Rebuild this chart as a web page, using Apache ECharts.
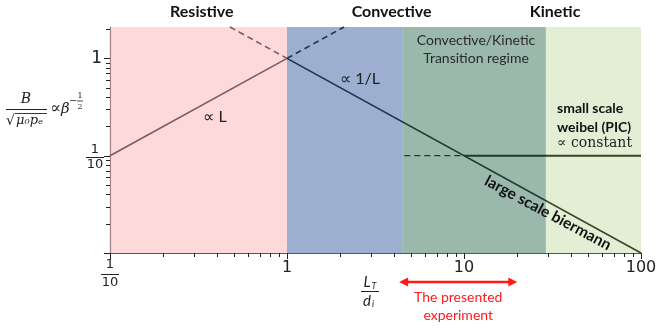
<!DOCTYPE html>
<html><head><meta charset="utf-8">
<script src="https://cdn.jsdelivr.net/npm/echarts@6/dist/echarts.min.js"></script>
<style>html,body{margin:0;padding:0;background:#fff}#c{width:659px;height:329px}</style>
</head><body><div id="c"></div>
<script>
// ---- data ----
const xRange = [0.1, 100];
const yRange = [0.01, 2.1];
const xMajorTicks = [0.1, 1, 10, 100];
const xMinorTicks = [0.2,0.3,0.4,0.5,0.6,0.7,0.8,0.9,2,3,4,5,6,7,8,9,20,30,40,50,60,70,80,90];
const yMajorTicks = [0.01, 0.1, 1];
const yMinorTicks = [0.02,0.03,0.04,0.05,0.06,0.07,0.08,0.09,0.2,0.3,0.4,0.5,0.6,0.7,0.8,0.9,2];
const regionNames = ['Resistive', 'Convective', 'Transition', 'Kinetic'];
const regionFrom = [0.1, 1, 4.5, 29];
const regionTo = [1, 4.5, 29, 100];
const regionTitles = ['Resistive', 'Convective', 'Kinetic'];
const regionTitleX = [0.33, 3.9, 32.7];
const resistiveSolid = [[0.1, 0.1], [1, 1]];
const resistiveDashed = [[1, 1], [2.1, 2.1]];
const convectiveDashed = [[0.476, 2.1], [1, 1]];
const convectiveSolid = [[1, 1], [100, 0.01]];
const weibelDashed = [[4.6, 0.1], [10, 0.1]];
const weibelSolid = [[10, 0.1], [100, 0.1]];
const experimentRange = [4.3, 20];

// ---- styles ----
const regionColors = ['#fbb3b3', '#395fa1', '#37715b', '#a7ce7c'];
const regionOpacity = [0.5, 0.5, 0.5, 0.33];
const TICK = '#222';
const chart = echarts.init(document.getElementById('c'), null, {renderer: 'canvas'});

function lineSeries(data, dashed, width) {
  return {
    type: 'line', data: data, symbol: 'none', silent: true, z: 2,
    lineStyle: {color: '#000', width: width || 1.6, type: dashed ? [6, 4] : 'solid'},
    animation: false
  };
}
function tickSeries(values, isX, len) {
  return {
    type: 'custom', z: 20, silent: true, clip: false,
    data: values.map(v => isX ? [v, yRange[0]] : [xRange[0], v]),
    encode: {x: 0, y: 1},
    renderItem: function (params, api) {
      const p = api.coord([api.value(0), api.value(1)]);
      const c = isX ? Math.round(p[0]) + 0.5 : Math.round(p[1]) + 0.5;
      const shape = isX ? {x1: c, y1: p[1], x2: c, y2: p[1] + len} : {x1: p[0] - len, y1: c, x2: p[0], y2: c};
      return {type: 'line', shape: shape, style: {stroke: TICK, lineWidth: 1}};
    }
  };
}

const option = {
  animation: false,
  grid: {left: 110, right: 18, top: 27, bottom: 76, outerBoundsMode: 'none', containLabel: false},
  xAxis: {
    type: 'log', logBase: 10, min: xRange[0], max: xRange[1],
    axisLine: {show: true, lineStyle: {color: '#555', width: 1.2}},
    axisTick: {show: false},
    axisLabel: {customValues: xMajorTicks, margin: 7, fontFamily: 'DejaVu Sans', fontSize: 16, color: '#222',
      formatter: v => (Math.abs(v - 0.1) < 1e-9 ? '' : String(Math.round(v)))},
    splitLine: {show: false}, minorTick: {show: false}
  },
  yAxis: {
    type: 'log', logBase: 10, min: yRange[0], max: yRange[1],
    axisLine: {show: true, lineStyle: {color: '#555', width: 1.2}},
    axisTick: {show: false},
    axisLabel: {customValues: [1], margin: 8, fontFamily: 'DejaVu Sans', fontSize: 17, color: '#222',
      formatter: v => (Math.abs(v - 1) < 1e-9 ? '1' : '')},
    splitLine: {show: false}
  },
  series: [
    lineSeries(resistiveSolid, false),
    lineSeries(resistiveDashed, true),
    lineSeries(convectiveDashed, true),
    lineSeries(convectiveSolid, false),
    lineSeries(weibelDashed, true, 1.2),
    lineSeries(weibelSolid, false, 2),
    {
      type: 'custom', z: 5, silent: true,
      data: regionFrom.map((f, i) => [f, regionTo[i]]),
      encode: {x: [0, 1]},
      renderItem: function (params, api) {
        const p0 = api.coord([api.value(0), yRange[1]]);
        const p1 = api.coord([api.value(1), yRange[0]]);
        return {type: 'rect', shape: {x: p0[0], y: p0[1], width: p1[0] - p0[0], height: p1[1] - p0[1]},
          style: {fill: regionColors[params.dataIndex], opacity: regionOpacity[params.dataIndex]}};
      }
    },
    tickSeries(xMajorTicks, true, 6),
    tickSeries(xMinorTicks, true, 4),
    tickSeries(yMajorTicks, false, 6),
    tickSeries(yMinorTicks, false, 4)
  ]
};
chart.setOption(option);

// ---- annotations ----
const px = x => chart.convertToPixel({xAxisIndex: 0}, x);
const INK = '#222';
function txt(text, x, y, font, fill, align, extra) {
  return Object.assign({type: 'text', z: 100, silent: true, x: x, y: y,
    style: {text: text, font: font, fill: fill || INK, align: align || 'center', verticalAlign: 'middle',
      textAlign: align || 'center', textVerticalAlign: 'middle'}}, extra || {});
}
function ln(x1, y1, x2, y2, color, w) {
  return {type: 'line', z: 100, silent: true, shape: {x1: x1, y1: y1, x2: x2, y2: y2},
    style: {stroke: color || INK, lineWidth: w || 1}};
}
const els = [];
// region titles
regionTitles.forEach((t, i) => els.push(txt(t, px(regionTitleX[i]), 12, 'bold 16px Lato', '#111')));
// in-plot text
els.push(txt('\u221d L', 215, 117, '16px Lato', '#222'));
els.push(txt('\u221d 1/L', 360, 79, '16px Lato', '#222'));
els.push(txt('Convective/Kinetic', 476, 40, '14px Lato', '#2a2a2a'));
els.push(txt('Transition regime', 476, 58, '14px Lato', '#2a2a2a'));
els.push(txt('small scale', 557, 108, 'bold 14px Lato', '#111', 'left'));
els.push(txt('weibel (PIC)', 557, 127, 'bold 14px Lato', '#111', 'left'));
els.push(txt('\u221d constant', 557, 143, '14px "DejaVu Serif"', '#222', 'left'));
els.push(txt('large scale biermann', 548, 213, 'bold 15.5px Lato', '#111', 'center', {rotation: -0.49}));
// y axis 1/10 fraction
els.push(txt('1', 95, 150, '13px "DejaVu Sans"'));
els.push(ln(86, 157.5, 104, 157.5, INK, 1));
els.push(txt('10', 95, 165, '13px "DejaVu Sans"'));
// x axis 1/10 fraction
const x01 = px(0.1);
els.push(txt('1', x01, 265, '13px "DejaVu Sans"'));
els.push(ln(x01 - 9, 274.5, x01 + 9, 274.5, INK, 1));
els.push(txt('10', x01, 283, '13px "DejaVu Sans"'));
// y axis formula
els.push(txt('B', 26, 99, 'italic 14px "DejaVu Serif"'));
els.push(ln(6, 109.5, 47, 109.5, INK, 1));
els.push(txt('\u221a', 6, 121, '14px "DejaVu Serif"', INK, 'left'));
els.push(ln(15, 113.5, 47, 113.5, INK, 0.9));
els.push(txt('\u03bc\u2080p\u2091', 16, 121, 'italic 13px "DejaVu Serif"', INK, 'left'));
els.push(txt('\u221d', 50, 109, '16px "DejaVu Serif"', INK, 'left'));
els.push(txt('\u03b2', 61, 109, 'italic 15px "DejaVu Serif"', INK, 'left'));
els.push(txt('\u2212', 69, 101, '10px "DejaVu Serif"', INK, 'left'));
els.push(txt('1', 80, 96, '8px "DejaVu Serif"'));
els.push(ln(77, 101, 83, 101, INK, 0.8));
els.push(txt('2', 80, 106.5, '8px "DejaVu Serif"'));
// x axis title L_T / d_i
els.push(txt('L', 367, 282, 'italic 15px Lato', INK, 'center'));
els.push(txt('T', 374, 286, 'italic 9px Lato', INK, 'center'));
els.push(ln(361, 291.5, 379, 291.5, INK, 1));
els.push(txt('d', 367, 301, 'italic 15px Lato', INK, 'center'));
els.push(txt('i', 373, 304, 'italic 9px Lato', INK, 'center'));
// red arrow for experiment
const ax0 = px(experimentRange[0]), ax1 = px(experimentRange[1]);
const RED = '#ff1a1a';
els.push(ln(ax0 + 6, 282, ax1 - 6, 282, RED, 2.5));
els.push({type: 'polygon', z: 100, silent: true, shape: {points: [[ax0, 282], [ax0 + 9, 277.5], [ax0 + 9, 286.5]]}, style: {fill: RED}});
els.push({type: 'polygon', z: 100, silent: true, shape: {points: [[ax1, 282], [ax1 - 9, 277.5], [ax1 - 9, 286.5]]}, style: {fill: RED}});
const amid = (ax0 + ax1) / 2;
els.push(txt('The presented', amid, 297, '14px Lato', RED));
els.push(txt('experiment', amid, 315, '14px Lato', RED));
chart.setOption({graphic: {elements: els}});
</script></body></html>
